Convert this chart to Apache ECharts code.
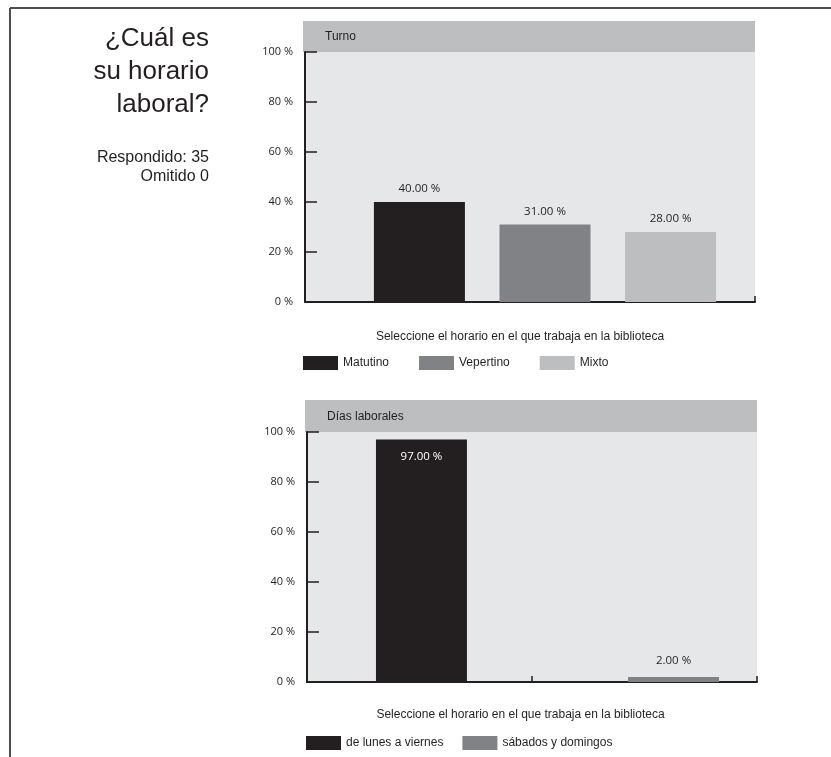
<!DOCTYPE html>
<html>
<head>
<meta charset="utf-8">
<script src="https://cdn.jsdelivr.net/npm/echarts@6/dist/echarts.min.js"></script>
<style>
html,body{margin:0;padding:0;background:#fff;}
#chart{width:831px;height:757px;}
</style>
</head>
<body>
<div id="chart"></div>
<script>
// ---- data ----
const questionTitle = '¿Cuál es\nsu horario\nlaboral?';
const answered = 35;
const skipped = 0;
const axisTitle = 'Seleccione el horario en el que trabaja en la biblioteca';

const turnoHeader = 'Turno';
const turnoCategories = ['Matutino', 'Vepertino', 'Mixto'];
const turnoValues = [40, 31, 28];
const turnoColors = ['#231f20', '#808285', '#bcbec0'];

const diasHeader = 'Días laborales';
const diasCategories = ['de lunes a viernes', 'sábados y domingos'];
const diasValues = [97, 2];
const diasColors = ['#231f20', '#808285'];

const yTickValues = [0, 20, 40, 60, 80, 100];

// ---- styling ----
const ink = '#231f20';
const plotBg = '#e6e7e8';
const bandBg = '#bcbec0';
const sans = '"Liberation Sans", Arial, Helvetica, sans-serif';
const numFont = '"Open Sans", "Noto Sans", sans-serif';

const chart = echarts.init(document.getElementById('chart'), null, {renderer: 'canvas'});

function visibleX(gridIndex, cats, nameGap, padRight) {
  return {
    type: 'category', gridIndex: gridIndex, data: cats,
    axisLine: {show: true, lineStyle: {color: ink, width: 2}},
    axisTick: {show: true, inside: true, length: 6, lineStyle: {color: ink, width: 1.5}},
    axisLabel: {show: false},
    splitLine: {show: false},
    name: axisTitle, nameLocation: 'middle', nameGap: nameGap,
    nameTextStyle: {fontFamily: sans, fontSize: 12, color: ink, padding: [0, padRight, 0, 0]}
  };
}
function visibleY(gridIndex) {
  return {
    type: 'value', gridIndex: gridIndex, min: yTickValues[0], max: yTickValues[yTickValues.length - 1],
    interval: yTickValues[1] - yTickValues[0],
    axisLine: {show: true, lineStyle: {color: ink, width: 2}},
    axisTick: {show: true, inside: true, length: 12, lineStyle: {color: ink, width: 1.5}},
    axisLabel: {formatter: '{value} %', margin: 12, fontFamily: numFont, fontSize: 11, color: ink},
    splitLine: {show: false}
  };
}
function hiddenX(gridIndex) {
  return {type: 'category', gridIndex: gridIndex, data: [''], show: false};
}
function hiddenY(gridIndex) {
  return {type: 'value', gridIndex: gridIndex, min: 0, max: 100, show: false};
}

function pctLabel(p) { return p.value.toFixed(2) + ' %'; }

const series = [];
turnoCategories.forEach(function (name, i) {
  series.push({
    name: name, type: 'bar', xAxisIndex: 1, yAxisIndex: 1,
    data: [turnoValues[i]], barWidth: 91, barGap: '38%',
    itemStyle: {color: turnoColors[i]},
    label: {show: true, position: 'top', distance: 7, fontFamily: numFont, fontSize: 11.5, color: ink,
      formatter: pctLabel}
  });
});
diasCategories.forEach(function (name, i) {
  const inside = diasValues[i] > 50;
  series.push({
    name: name, type: 'bar', xAxisIndex: 3, yAxisIndex: 3,
    data: [diasValues[i]], barWidth: 91, barGap: '177%',
    itemStyle: {color: diasColors[i]},
    label: {show: true, position: inside ? 'insideTop' : 'top', distance: inside ? 11 : 10,
      fontFamily: numFont, fontSize: 11.5, color: inside ? '#ffffff' : ink,
      formatter: pctLabel}
  });
});

const option = {
  backgroundColor: '#ffffff',
  animation: false,
  graphic: [
    {type: 'rect', z: -10, shape: {x: 303, y: 21, width: 452, height: 31}, style: {fill: bandBg}},
    {type: 'rect', z: -10, shape: {x: 305, y: 400, width: 452, height: 32}, style: {fill: bandBg}},
    {type: 'line', shape: {x1: 10, y1: 8, x2: 831, y2: 8}, style: {stroke: '#4d4d4f', lineWidth: 2}},
    {type: 'line', shape: {x1: 10, y1: 8, x2: 10, y2: 757}, style: {stroke: '#4d4d4f', lineWidth: 2}},
    {type: 'text', x: 209, y: 22, style: {text: questionTitle, fill: ink,
      font: '26px ' + sans, lineHeight: 33, textAlign: 'right', textVerticalAlign: 'top'}},
    {type: 'text', x: 209, y: 148, style: {text: 'Respondido: ' + answered + '\nOmitido ' + skipped, fill: ink,
      font: '16px ' + sans, lineHeight: 19, textAlign: 'right', textVerticalAlign: 'top'}},
    {type: 'text', x: 325, y: 37, style: {text: turnoHeader, fill: ink,
      font: '12px ' + sans, textAlign: 'left', textVerticalAlign: 'middle'}},
    {type: 'text', x: 327, y: 417, style: {text: diasHeader, fill: ink,
      font: '12px ' + sans, textAlign: 'left', textVerticalAlign: 'middle'}}
  ],
  legend: [
    {data: turnoCategories, left: 303, top: 356, itemWidth: 35, itemHeight: 14, itemGap: 30,
      icon: 'rect', padding: 0, textStyle: {fontFamily: sans, fontSize: 12, color: ink}, selectedMode: false},
    {data: diasCategories, left: 306, top: 736, itemWidth: 35, itemHeight: 14, itemGap: 19,
      icon: 'rect', padding: 0, textStyle: {fontFamily: sans, fontSize: 12, color: ink}, selectedMode: false}
  ],
  grid: [
    {left: 305, top: 52, width: 450, height: 250, show: true, backgroundColor: plotBg, borderWidth: 0},
    {left: 335, top: 52, width: 420, height: 250},
    {left: 307, top: 432, width: 450, height: 250, show: true, backgroundColor: plotBg, borderWidth: 0},
    {left: 338, top: 432, width: 419, height: 250}
  ],
  xAxis: [
    visibleX(0, [turnoHeader], 29, 20),
    hiddenX(1),
    visibleX(2, diasCategories, 27, 23),
    hiddenX(3)
  ],
  yAxis: [
    visibleY(0),
    hiddenY(1),
    visibleY(2),
    hiddenY(3)
  ],
  series: series
};
chart.setOption(option);
</script>
</body>
</html>
